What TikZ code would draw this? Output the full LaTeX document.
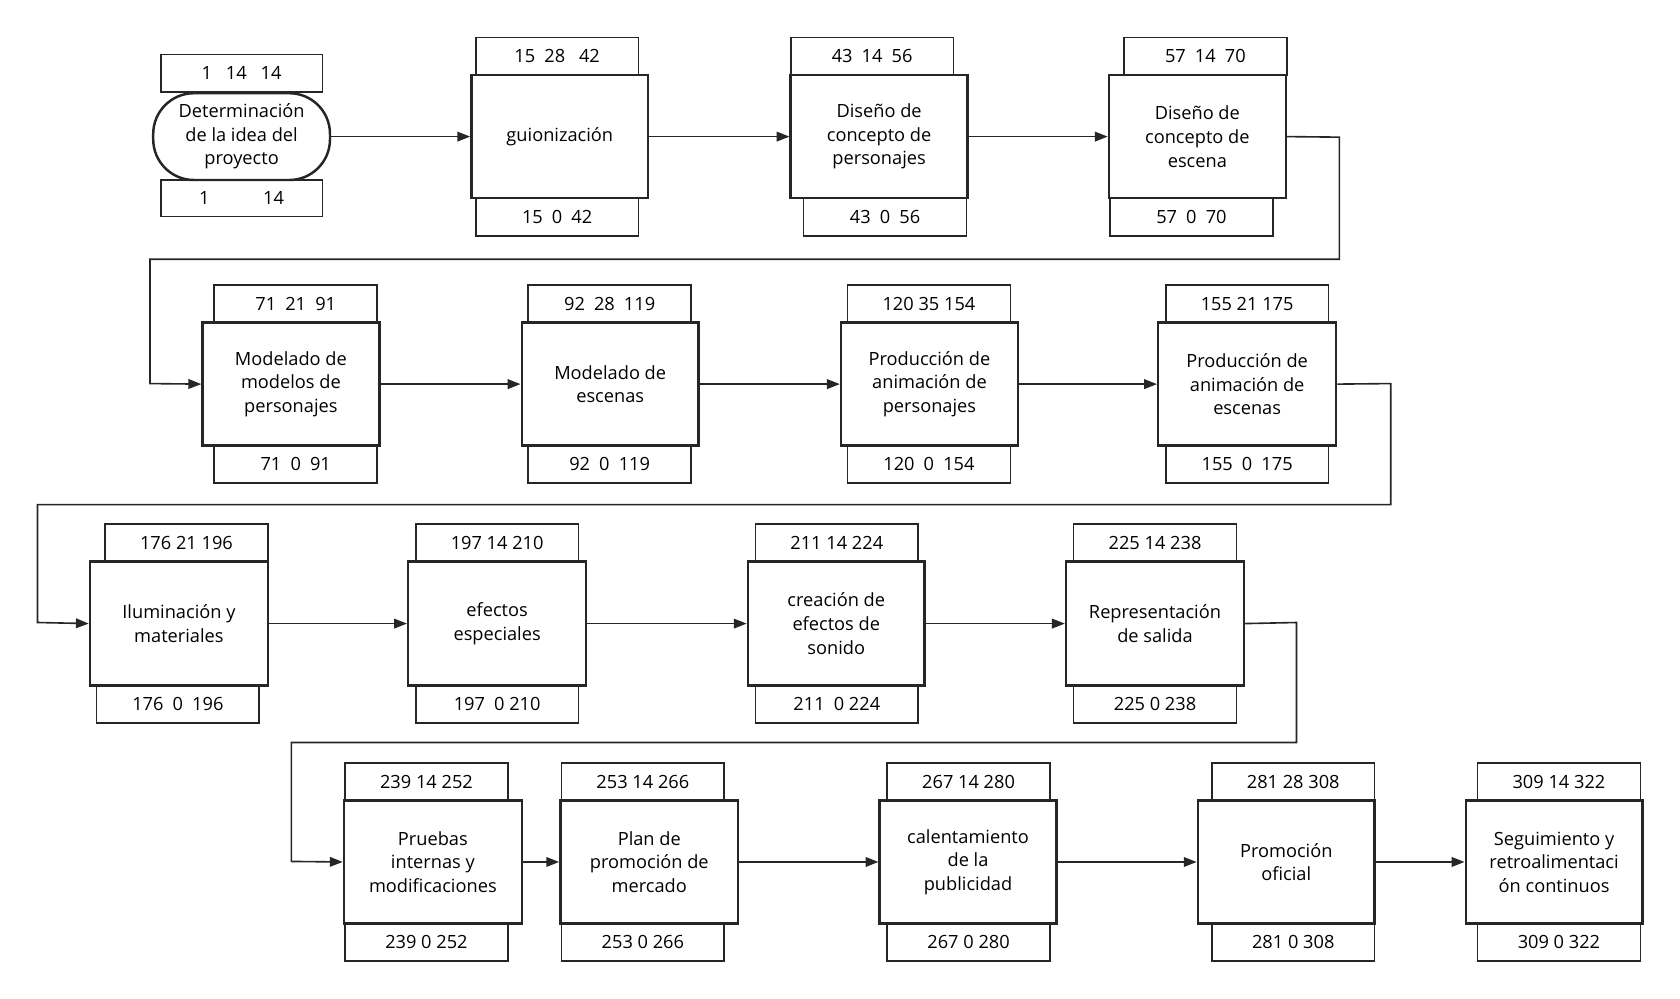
\documentclass[tikz,border=0pt]{standalone}
\usepackage{fontspec}
\setmainfont{Open Sans}
\usetikzlibrary{fit,arrows.meta}
\tikzset{
 mainbox/.style={draw=black!85,line width=2.3pt,inner sep=0pt,align=center,text width=150pt,font=\fontsize{17}{22}\selectfont},
 numbox/.style={draw=black!85,line width=1.5pt,inner sep=0pt,font=\fontsize{17}{20}\selectfont},
 conn/.style={draw=black!85,line width=1.5pt,-{Triangle[length=12pt,width=9pt]}}
}
\newcommand\tsk[9]{%
 \node[mainbox,fit={(#2,#4)(#3,#5)}] (#1) {};
 \node[numbox,fit={(#6,#4-35)(#7,#4)}] (#1t) {};
 \node[numbox,fit={(#8,#5)(#9,#5+35)}] (#1b) {};
}
\newcommand\txt[4]{%
 \node[font=\fontsize{17}{22}\selectfont,align=center] at (#1) {#2};
 \node[font=\fontsize{17}{20}\selectfont] at (#1t) {#3};
 \node[font=\fontsize{17}{20}\selectfont] at (#1b) {#4};
}
\begin{document}
\begin{tikzpicture}[x=1pt,y=-1pt]
\useasboundingbox[fill=white] (0,0) rectangle (1568,932);
\node[draw=black!85,line width=2.3pt,rounded corners=38pt,fit={(143,87)(308,168)},inner sep=0pt] (a1) {};
\node[numbox,fit={(150,51)(301,86)}] (a1t) {};
\node[numbox,fit={(150,168)(301,202)}] (a1b) {};
\node[font=\fontsize{17}{22}\selectfont,align=center] at (a1) {Determinación\\de la idea del\\proyecto};
\node[font=\fontsize{17}{20}\selectfont] at (a1t) {1\enspace\ 14\enspace\ 14};
\node[font=\fontsize{17}{20}\selectfont] at (a1b) {1\hspace{50pt}14};
\tsk{a2}{440}{605}{70}{185}{444}{596}{444}{596}
\tsk{a3}{738}{903}{70}{185}{738}{890}{750}{902}
\tsk{a4}{1035}{1200}{70}{185}{1049}{1201}{1036}{1188}
\tsk{a5}{189}{354}{301}{416}{200}{352}{200}{352}
\tsk{a6}{487}{652}{301}{416}{493}{645}{493}{645}
\tsk{a7}{785}{950}{301}{416}{791}{943}{791}{943}
\tsk{a8}{1081}{1247}{301}{416}{1088}{1240}{1088}{1240}
\tsk{a9}{84}{250}{524}{640}{98}{250}{90}{242}
\tsk{a10}{381}{547}{524}{640}{388}{540}{388}{540}
\tsk{a11}{698}{863}{524}{640}{705}{857}{705}{857}
\tsk{a12}{995}{1161}{524}{640}{1002}{1154}{1002}{1154}
\tsk{a13}{321}{487}{747}{862}{322}{474}{322}{474}
\tsk{a14}{523}{689}{747}{862}{524}{676}{524}{676}
\tsk{a15}{821}{986}{747}{862}{828}{980}{828}{980}
\tsk{a16}{1118}{1283}{747}{862}{1131}{1283}{1131}{1283}
\tsk{a17}{1368}{1533}{747}{862}{1379}{1531}{1379}{1531}
\txt{a2}{guionización}{15\enspace 28\enspace\ 42}{15\enspace 0\enspace 42}
\txt{a3}{Diseño de\\concepto de\\personajes}{43\enspace14\enspace56}{43\enspace0\enspace56}
\txt{a4}{Diseño de\\concepto de\\escena}{57\enspace14\enspace70}{57\enspace0\enspace70}
\txt{a5}{Modelado de\\modelos de\\personajes}{71\enspace21\enspace91}{71\enspace0\enspace91}
\txt{a6}{Modelado de\\escenas}{92\enspace28\enspace119}{92\enspace0\enspace119}
\txt{a7}{Producción de\\animación de\\personajes}{120 35 154}{120\enspace0\enspace154}
\txt{a8}{Producción de\\animación de\\escenas}{155 21 175}{155\enspace0\enspace175}
\txt{a9}{Iluminación y\\materiales}{176 21 196}{176\enspace0\enspace196}
\txt{a10}{efectos\\especiales}{197 14 210}{197\enspace0 210}
\txt{a11}{creación de\\efectos de\\sonido}{211 14 224}{211\enspace0 224}
\txt{a12}{Representación\\de salida}{225 14 238}{225 0 238}
\txt{a13}{Pruebas\\internas y\\modificaciones}{239 14 252}{239 0 252}
\txt{a14}{Plan de\\promoción de\\mercado}{253 14 266}{253 0 266}
\txt{a15}{calentamiento\\de la\\publicidad}{267 14 280}{267 0 280}
\txt{a16}{Promoción\\oficial}{281 28 308}{281 0 308}
\txt{a17}{Seguimiento y\\retroalimentaci\\ón continuos}{309 14 322}{309 0 322}
\draw[conn] (a1) -- (a2);
\draw[conn] (a2) -- (a3);
\draw[conn] (a3) -- (a4);
\draw[conn] (a4.east) -- (1250,128) -- (1250,242) -- (140,242) -- (140,358) -- (a5.west);
\draw[conn] (a5) -- (a6);
\draw[conn] (a6) -- (a7);
\draw[conn] (a7) -- (a8);
\draw[conn] (a8.east) -- (1298,358) -- (1298,471) -- (35,471) -- (35,581) -- (a9.west);
\draw[conn] (a9) -- (a10);
\draw[conn] (a10) -- (a11);
\draw[conn] (a11) -- (a12);
\draw[conn] (a12.east) -- (1210,581) -- (1210,693) -- (272,693) -- (272,804) -- (a13.west);
\draw[conn] (a13) -- (a14);
\draw[conn] (a14) -- (a15);
\draw[conn] (a15) -- (a16);
\draw[conn] (a16) -- (a17);
\end{tikzpicture}
\end{document}
